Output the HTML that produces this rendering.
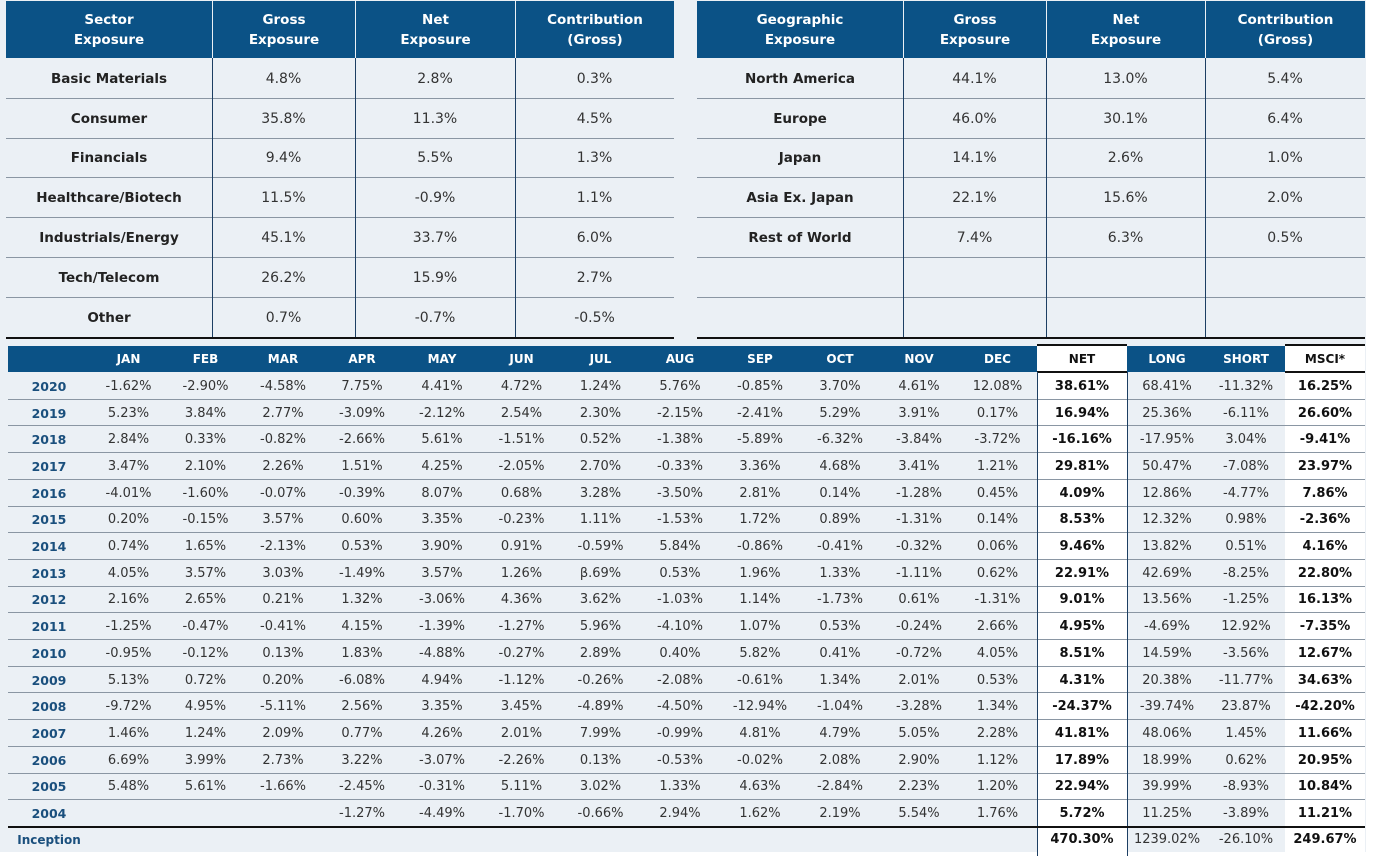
<!DOCTYPE html>
<html><head><meta charset="utf-8">
<style>
body{margin:0;width:1375px;height:852px;background:#fff;overflow:hidden;font-family:"DejaVu Sans","Liberation Sans",sans-serif;}
#root{position:absolute;left:0;top:0;width:1366px;height:852px;background:#ebf0f5;}
.c{position:absolute;display:flex;align-items:center;justify-content:center;text-align:center;box-sizing:border-box;color:#222;}
.h{background:#0b5286;color:#fff;font-weight:bold;font-size:13.5px;line-height:20px;}
.l{position:absolute;}
</style></head><body>
<div id="root"></div>
<script>
const sectorNames=["Basic Materials","Consumer","Financials","Healthcare/Biotech","Industrials/Energy","Tech/Telecom","Other"];
const sectorGross=["4.8%","35.8%","9.4%","11.5%","45.1%","26.2%","0.7%"];
const sectorNet=["2.8%","11.3%","5.5%","-0.9%","33.7%","15.9%","-0.7%"];
const sectorContrib=["0.3%","4.5%","1.3%","1.1%","6.0%","2.7%","-0.5%"];
const geoNames=["North America","Europe","Japan","Asia Ex. Japan","Rest of World","",""];
const geoGross=["44.1%","46.0%","14.1%","22.1%","7.4%","",""];
const geoNet=["13.0%","30.1%","2.6%","15.6%","6.3%","",""];
const geoContrib=["5.4%","6.4%","1.0%","2.0%","0.5%","",""];
const months=["JAN","FEB","MAR","APR","MAY","JUN","JUL","AUG","SEP","OCT","NOV","DEC","NET","LONG","SHORT","MSCI*"];
const years=["2020","2019","2018","2017","2016","2015","2014","2013","2012","2011","2010","2009","2008","2007","2006","2005","2004"];
const monthly=[
["-1.62%","-2.90%","-4.58%","7.75%","4.41%","4.72%","1.24%","5.76%","-0.85%","3.70%","4.61%","12.08%","38.61%","68.41%","-11.32%","16.25%"],
["5.23%","3.84%","2.77%","-3.09%","-2.12%","2.54%","2.30%","-2.15%","-2.41%","5.29%","3.91%","0.17%","16.94%","25.36%","-6.11%","26.60%"],
["2.84%","0.33%","-0.82%","-2.66%","5.61%","-1.51%","0.52%","-1.38%","-5.89%","-6.32%","-3.84%","-3.72%","-16.16%","-17.95%","3.04%","-9.41%"],
["3.47%","2.10%","2.26%","1.51%","4.25%","-2.05%","2.70%","-0.33%","3.36%","4.68%","3.41%","1.21%","29.81%","50.47%","-7.08%","23.97%"],
["-4.01%","-1.60%","-0.07%","-0.39%","8.07%","0.68%","3.28%","-3.50%","2.81%","0.14%","-1.28%","0.45%","4.09%","12.86%","-4.77%","7.86%"],
["0.20%","-0.15%","3.57%","0.60%","3.35%","-0.23%","1.11%","-1.53%","1.72%","0.89%","-1.31%","0.14%","8.53%","12.32%","0.98%","-2.36%"],
["0.74%","1.65%","-2.13%","0.53%","3.90%","0.91%","-0.59%","5.84%","-0.86%","-0.41%","-0.32%","0.06%","9.46%","13.82%","0.51%","4.16%"],
["4.05%","3.57%","3.03%","-1.49%","3.57%","1.26%","β.69%","0.53%","1.96%","1.33%","-1.11%","0.62%","22.91%","42.69%","-8.25%","22.80%"],
["2.16%","2.65%","0.21%","1.32%","-3.06%","4.36%","3.62%","-1.03%","1.14%","-1.73%","0.61%","-1.31%","9.01%","13.56%","-1.25%","16.13%"],
["-1.25%","-0.47%","-0.41%","4.15%","-1.39%","-1.27%","5.96%","-4.10%","1.07%","0.53%","-0.24%","2.66%","4.95%","-4.69%","12.92%","-7.35%"],
["-0.95%","-0.12%","0.13%","1.83%","-4.88%","-0.27%","2.89%","0.40%","5.82%","0.41%","-0.72%","4.05%","8.51%","14.59%","-3.56%","12.67%"],
["5.13%","0.72%","0.20%","-6.08%","4.94%","-1.12%","-0.26%","-2.08%","-0.61%","1.34%","2.01%","0.53%","4.31%","20.38%","-11.77%","34.63%"],
["-9.72%","4.95%","-5.11%","2.56%","3.35%","3.45%","-4.89%","-4.50%","-12.94%","-1.04%","-3.28%","1.34%","-24.37%","-39.74%","23.87%","-42.20%"],
["1.46%","1.24%","2.09%","0.77%","4.26%","2.01%","7.99%","-0.99%","4.81%","4.79%","5.05%","2.28%","41.81%","48.06%","1.45%","11.66%"],
["6.69%","3.99%","2.73%","3.22%","-3.07%","-2.26%","0.13%","-0.53%","-0.02%","2.08%","2.90%","1.12%","17.89%","18.99%","0.62%","20.95%"],
["5.48%","5.61%","-1.66%","-2.45%","-0.31%","5.11%","3.02%","1.33%","4.63%","-2.84%","2.23%","1.20%","22.94%","39.99%","-8.93%","10.84%"],
["","","","-1.27%","-4.49%","-1.70%","-0.66%","2.94%","1.62%","2.19%","5.54%","1.76%","5.72%","11.25%","-3.89%","11.21%"]];
const inception=["470.30%","1239.02%","-26.10%","249.67%"];

const root=document.getElementById('root');
function cell(x,y,w,h,txt,cls,style,name){
  const d=document.createElement('div');
  d.className='c '+(cls||'');
  d.style.cssText+=`left:${x}px;top:${y}px;width:${w}px;height:${h}px;`+(style||'');
  d.innerHTML=txt;
  
  
  root.appendChild(d);return d;
}
function line(x,y,w,h,c,name){
  const d=document.createElement('div');d.className='l';
  d.style.cssText=`left:${x}px;top:${y}px;width:${w}px;height:${h}px;background:${c};`;
  
  
  root.appendChild(d);
}
function topTable(x0,cols,heads,c0,c1,c2,c3,prefix){
  const cs=[c0,c1,c2,c3];
  for(let i=0;i<4;i++){
    cell(cols[i]+(i?1:0),1,cols[i+1]-cols[i]-(i?1:0),57,heads[i],'h','',prefix+'-header');
  }
  const rh=39.8;
  for(let r=0;r<7;r++){
    const y=59+r*rh;
    for(let i=0;i<4;i++){
      cell(cols[i],y,cols[i+1]-cols[i],rh,cs[i][r],'',i==0?'font-weight:bold;font-size:13.5px;':'font-size:14px;color:#333;',prefix+'-cell');
    }
    if(r<6) line(cols[0],y+rh-1,cols[4]-cols[0],1,'#8a96a3',prefix+'-row-divider');
  }
  for(let i=1;i<4;i++) line(cols[i],58,1,280,'#1d3f63',prefix+'-col-divider');
  line(cols[0],337,cols[4]-cols[0],2,'#111',prefix+'-bottom-rule');
}
topTable(6,[6,212,355,515,674],["Sector<br>Exposure","Gross<br>Exposure","Net<br>Exposure","Contribution<br>(Gross)"],sectorNames,sectorGross,sectorNet,sectorContrib,'sector');
topTable(697,[697,903,1046,1205,1365],["Geographic<br>Exposure","Gross<br>Exposure","Net<br>Exposure","Contribution<br>(Gross)"],geoNames,geoGross,geoNet,geoContrib,'geo');

// bottom table
const colX=[8,90,167,244,322,402,482,561,640,720,800,880,958,1037,1127,1207,1285,1365];
const hy=346,hh=26;
cell(colX[0],hy,colX[1]-colX[0],hh,'','h','','header-blank');
for(let i=0;i<16;i++){
  const white=(i==12||i==15);
  cell(colX[i+1],hy,colX[i+2]-colX[i+1],hh,months[i],'h',white?'background:#fff;color:#111;font-size:12px;':'font-size:12px;','month-header');
  if(white){line(colX[i+1],hy-2,colX[i+2]-colX[i+1],2,'#111','header-top-rule');line(colX[i+1],hy+hh-1,colX[i+2]-colX[i+1],3,'#111','header-bottom-rule');}
}
// white backgrounds for NET and MSCI columns
const ry0=373,rh=26.7;
const bodyH=rh*years.length;
line(colX[13],ry0,colX[14]-colX[13],bodyH+25,'#fff','net-column-bg');
line(colX[16],ry0,colX[17]-colX[16],bodyH+25,'#fff','msci-column-bg');
for(let r=0;r<years.length;r++){
  const y=ry0+r*rh;
  cell(colX[0],y,colX[1]-colX[0],rh,years[r],'','color:#1a4f7d;font-weight:bold;font-size:12.5px;','year-label');
  for(let i=0;i<16;i++){
    const b=(i==12||i==15);
    cell(colX[i+1],y,colX[i+2]-colX[i+1],rh,monthly[r][i],'',b?'font-weight:bold;font-size:13px;color:#111;':'font-size:13px;color:#333;','return-cell');
  }
  if(r<years.length-1) line(colX[0],y+rh-1,colX[17]-colX[0],1,'#8a96a3','row-divider');
}
line(colX[13],hy+hh,1,bodyH+30,'#1d3f63','net-left-border');
line(colX[14],hy+hh,1,bodyH+30,'#1d3f63','net-right-border');
const iy=ry0+bodyH;
line(colX[0],iy-1,colX[17]-colX[0],2,'#111','inception-rule');
cell(colX[0],iy+1,colX[1]-colX[0],24,'Inception','','color:#1a4f7d;font-weight:bold;font-size:12px;','inception-label');
for(let i=0;i<4;i++){
  const b=(i==0||i==3);
  cell(colX[13+i],iy+1,colX[14+i]-colX[13+i],24,inception[i],'',b?'font-weight:bold;font-size:13px;color:#111;':'font-size:13px;color:#333;','inception-value');
}
</script>
</body></html>
